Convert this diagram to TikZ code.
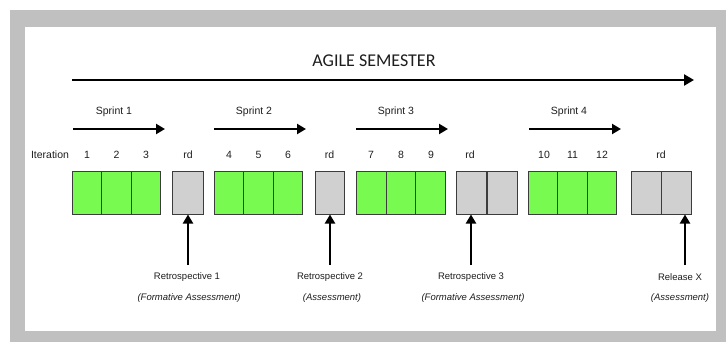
\documentclass[tikz,border=0pt]{standalone}
\usepackage{fontspec}
\setmainfont{Liberation Sans}
\newfontfamily\titlefont{Carlito}
\usetikzlibrary{arrows.meta}
\definecolor{framegray}{RGB}{192,192,192}
\definecolor{itgreen}{RGB}{120,250,80}
\definecolor{rdgray}{RGB}{208,208,208}
\definecolor{edgegray}{RGB}{60,60,60}
\definecolor{txt}{RGB}{30,30,30}
\tikzset{
  cell/.style={draw=edgegray, line width=1pt, minimum height=42pt, inner sep=0pt, anchor=center},
  itcell/.style={cell, fill=itgreen, minimum width=29.6pt},
  rdcell/.style={cell, fill=rdgray},
  lbl/.style={font=\fontsize{10.5}{12}\selectfont, text=txt, inner sep=0pt},
  sub/.style={font=\fontsize{9.5}{11}\selectfont, text=txt, inner sep=0pt},
  subit/.style={font=\fontsize{9.5}{11}\selectfont\itshape, text=txt, inner sep=0pt},
  bigarrow/.style={line width=2.6pt, -{Triangle[length=10pt,width=11pt]}},
  sparrow/.style={line width=2.2pt, -{Triangle[length=9pt,width=10pt]}},
  uparrow/.style={line width=2.2pt, -{Triangle[length=9pt,width=10pt]}},
}
\begin{document}
\begin{tikzpicture}[x=1pt,y=-1pt]
\useasboundingbox (0,0) rectangle (726,342);
\fill[framegray] (10,10) rectangle (726,342);
\fill[white] (25,27) rectangle (716,331);

% title and semester arrow
\node[font=\titlefont\fontsize{18}{20}\selectfont, text=txt, inner sep=0pt] (title) at (374,61) {AGILE SEMESTER};
\coordinate (semS) at (72,80);
\coordinate (semE) at (694,80);
\draw[bigarrow] (semS) -- (semE);

% sprints
\node[lbl] (sp1) at (114,112) {Sprint 1};
\node[lbl] (sp2) at (254,112) {Sprint 2};
\node[lbl] (sp3) at (396,112) {Sprint 3};
\node[lbl] (sp4) at (569,112) {Sprint 4};
\coordinate (s1a) at (73,129);  \coordinate (s1b) at (165,129);
\coordinate (s2a) at (214,129); \coordinate (s2b) at (306,129);
\coordinate (s3a) at (356,129); \coordinate (s3b) at (448,129);
\coordinate (s4a) at (529,129); \coordinate (s4b) at (621,129);
\draw[sparrow] (s1a) -- (s1b);
\draw[sparrow] (s2a) -- (s2b);
\draw[sparrow] (s3a) -- (s3b);
\draw[sparrow] (s4a) -- (s4b);

% iteration labels
\node[lbl] (itl) at (50,155) {Iteration};
\node[lbl] (n1) at (87,155) {1};
\node[lbl] (n2) at (116.5,155) {2};
\node[lbl] (n3) at (146,155) {3};
\node[lbl] (r1) at (188,155) {rd};
\node[lbl] (n4) at (229,155) {4};
\node[lbl] (n5) at (258.5,155) {5};
\node[lbl] (n6) at (288,155) {6};
\node[lbl] (r2) at (329.5,155) {rd};
\node[lbl] (n7) at (371,155) {7};
\node[lbl] (n8) at (401,155) {8};
\node[lbl] (n9) at (431,155) {9};
\node[lbl] (r3) at (470,155) {rd};
\node[lbl] (n10) at (544,155) {10};
\node[lbl] (n11) at (572.5,155) {11};
\node[lbl] (n12) at (602,155) {12};
\node[lbl] (r4) at (661,155) {rd};

% cells
\node[itcell] (c1) at (87,193) {};
\node[itcell] (c2) at (116.5,193) {};
\node[itcell] (c3) at (146,193) {};
\node[rdcell, minimum width=31pt] (g1) at (187.5,193) {};
\node[itcell] (c4) at (229,193) {};
\node[itcell] (c5) at (258.5,193) {};
\node[itcell] (c6) at (288,193) {};
\node[rdcell, minimum width=29pt] (g2) at (329.5,193) {};
\node[itcell] (c7) at (371.5,193) {};
\node[itcell] (c8) at (401,193) {};
\node[itcell] (c9) at (430.5,193) {};
\node[rdcell, minimum width=30.5pt] (g3a) at (471.5,193) {};
\node[rdcell, minimum width=30pt] (g3b) at (502,193) {};
\node[itcell] (c10) at (543,193) {};
\node[itcell] (c11) at (572.5,193) {};
\node[itcell] (c12) at (602,193) {};
\node[rdcell, minimum width=30pt] (g4a) at (646,193) {};
\node[rdcell, minimum width=30pt] (g4b) at (676,193) {};

% bottom labels
\node[sub] (ret1) at (187,277) {Retrospective 1};
\node[subit] (fa1) at (189,298) {(Formative Assessment)};
\node[sub] (ret2) at (330,277) {Retrospective 2};
\node[subit] (as2) at (332,298) {(Assessment)};
\node[sub] (ret3) at (471,277) {Retrospective 3};
\node[subit] (fa3) at (473,298) {(Formative Assessment)};
\node[sub] (relx) at (680,277) {Release X};
\node[subit] (as4) at (680,298) {(Assessment)};

% up arrows
\coordinate (u1) at (188,265);
\coordinate (u2) at (330,265);
\coordinate (u3) at (471,265);
\coordinate (u4) at (685,265);
\draw[uparrow] (u1) -- (u1 |- g1.south);
\draw[uparrow] (u2) -- (u2 |- g2.south);
\draw[uparrow] (u3) -- (u3 |- g3a.south);
\draw[uparrow] (u4) -- (u4 |- g4b.south);
\end{tikzpicture}
\end{document}
